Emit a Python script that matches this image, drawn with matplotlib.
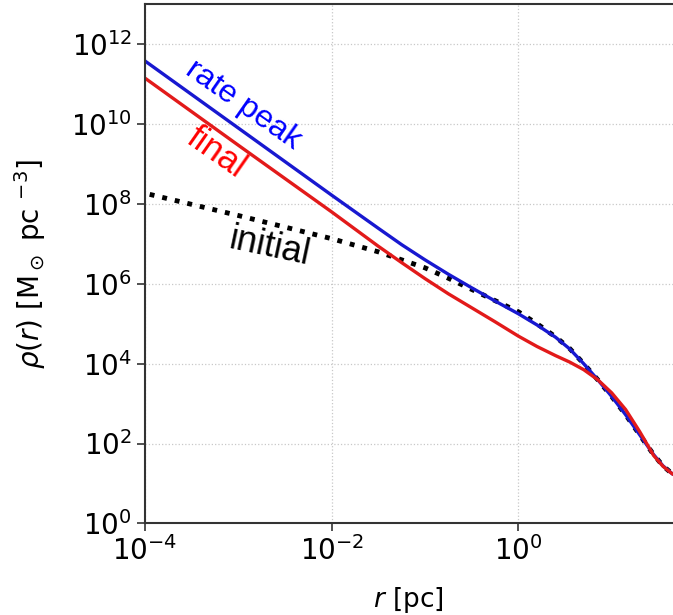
import matplotlib.pyplot as plt
import numpy as np

# log10 r [pc] and log10 rho [Msun pc^-3]
peak_logr = [-4.0, -3.0, -2.0, -1.5, -1.25, -1.0, -0.75, -0.5, -0.25, 0.0, 0.2, 0.4,
             0.55, 0.7, 0.85, 1.0, 1.15, 1.3, 1.45, 1.55, 1.65, 1.75]
peak_logrho = [11.58, 9.9, 8.22, 7.39, 6.98, 6.6, 6.24, 5.9, 5.57, 5.25, 4.97, 4.66,
               4.37, 4.0, 3.6, 3.18, 2.72, 2.22, 1.72, 1.44, 1.24, 1.12]

final_logr = [-4.0, -3.0, -2.0, -1.5, -1.25, -1.0, -0.75, -0.5, -0.25, 0.0, 0.2, 0.4,
              0.55, 0.7, 0.85, 1.0, 1.15, 1.3, 1.45, 1.55, 1.65, 1.75]
final_logrho = [11.15, 9.47, 7.8, 6.94, 6.53, 6.13, 5.75, 5.4, 5.05, 4.69, 4.43, 4.2,
                4.04, 3.85, 3.6, 3.27, 2.85, 2.3, 1.7, 1.43, 1.24, 1.12]

init_logr = [-3.95, -3.0, -2.0, -1.5, -1.0, -0.75, -0.5, -0.25, 0.0, 0.2, 0.4, 0.55,
             0.7, 0.85, 1.0, 1.15, 1.3, 1.45, 1.55, 1.65, 1.75]
init_logrho = [8.24, 7.71, 7.13, 6.8, 6.4, 6.14, 5.86, 5.58, 5.3, 5.0, 4.67, 4.38,
               4.0, 3.6, 3.18, 2.72, 2.22, 1.72, 1.44, 1.24, 1.12]

xticks = [1e-4, 1e-2, 1e0, 1e2]
xticklabels = [r"$10^{-4}$", r"$10^{-2}$", r"$10^{0}$", ""]
yticks = [1e0, 1e2, 1e4, 1e6, 1e8, 1e10, 1e12]

plt.rcParams["mathtext.fontset"] = "dejavusans"

fig = plt.figure(figsize=(6.73, 6.15), dpi=100)
ax = fig.add_axes([0.2155, 0.149, 0.832, 0.844])

ax.plot(10 ** np.array(init_logr), 10 ** np.array(init_logrho), ":", color="black", lw=3.5)
ax.plot(10 ** np.array(peak_logr), 10 ** np.array(peak_logrho), color="#1818d0", lw=2.4)
ax.plot(10 ** np.array(final_logr), 10 ** np.array(final_logrho), color="#e21a1a", lw=2.4)

ax.set_xscale("log")
ax.set_yscale("log")
ax.set_xlim(1e-4, 1e2)
ax.set_ylim(1e0, 1e13)
ax.set_xticks(xticks)
ax.set_xticklabels(xticklabels)
ax.set_yticks(yticks)
ax.minorticks_off()
ax.grid(True, ls=":", color="#c8c8c8", lw=0.9)
ax.tick_params(labelsize=20, length=6, width=1.2, color="#333333")
for s in ax.spines.values():
    s.set_color("#333333")
    s.set_linewidth(1.5)

ax.set_xlabel(r"$r$ [pc]", fontsize=19)
ax.xaxis.set_label_coords(0.47, -0.118)
ax.set_ylabel(r"$\rho(r)$ [M$_\odot$ pc $^{-3}$]", fontsize=20)
ax.yaxis.set_label_coords(-0.173, 0.5)

ax.text(0.175, 0.806, "rate peak", transform=ax.transAxes, color="blue",
        fontsize=23, family="Liberation Sans", rotation=-35, ha="center", va="center")
ax.text(0.127, 0.715, "final", transform=ax.transAxes, color="red",
        fontsize=25, family="Liberation Sans", rotation=-35, ha="center", va="center")
ax.text(0.223, 0.532, "initial", transform=ax.transAxes, color="black",
        fontsize=26, family="Liberation Sans", rotation=-12, ha="center", va="center")

fig.savefig("out.png", dpi=100, facecolor="white")
